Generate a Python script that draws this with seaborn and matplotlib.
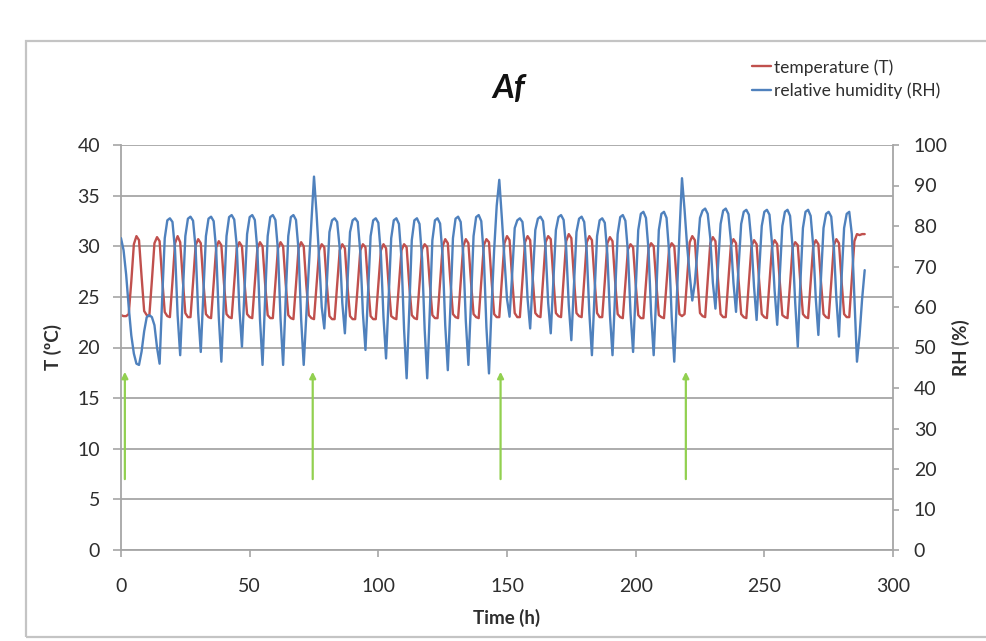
import matplotlib
matplotlib.use("Agg")
import matplotlib.pyplot as plt
import seaborn as sns
import pandas as pd
from matplotlib.patches import Rectangle
from matplotlib.lines import Line2D

# Hourly logger readings, one row per 8-hour climate cycle
temperature = [
    23.2, 23.1, 23.1, 23.3, 26.5, 30.2, 31.0, 30.6,
    27.0, 23.6, 23.2, 23.1, 26.6, 30.3, 30.9, 30.5,
    26.8, 23.5, 23.1, 23.0, 26.5, 30.3, 31.0, 30.4,
    26.7, 23.4, 23.0, 23.0, 26.4, 30.1, 30.7, 30.3,
    26.5, 23.3, 23.0, 22.9, 26.3, 29.9, 30.5, 30.1,
    26.4, 23.3, 23.0, 22.9, 26.3, 29.8, 30.4, 30.0,
    26.4, 23.3, 23.0, 22.9, 26.4, 29.8, 30.4, 30.0,
    26.3, 23.2, 22.9, 22.9, 26.3, 29.8, 30.4, 30.0,
    26.3, 23.2, 22.9, 22.8, 26.2, 29.8, 30.4, 30.0,
    26.2, 23.2, 22.9, 22.8, 26.2, 29.6, 30.2, 29.9,
    26.2, 23.1, 22.8, 22.8, 26.2, 29.6, 30.2, 29.8,
    26.1, 23.1, 22.8, 22.8, 26.1, 29.6, 30.2, 29.9,
    26.2, 23.1, 22.8, 22.8, 26.2, 29.6, 30.2, 29.8,
    26.2, 23.1, 22.9, 22.8, 26.2, 29.6, 30.2, 29.9,
    26.2, 23.2, 22.9, 22.8, 26.3, 29.7, 30.2, 29.9,
    26.3, 23.2, 22.9, 22.9, 26.4, 30.0, 30.7, 30.3,
    26.5, 23.3, 23.0, 22.9, 26.4, 30.0, 30.7, 30.3,
    26.5, 23.3, 23.0, 22.9, 26.5, 30.1, 30.7, 30.4,
    26.6, 23.3, 23.0, 23.0, 26.6, 30.3, 31.0, 30.6,
    26.8, 23.4, 23.0, 23.0, 26.6, 30.4, 31.0, 30.6,
    26.8, 23.4, 23.1, 23.0, 26.6, 30.4, 31.0, 30.7,
    26.9, 23.4, 23.1, 23.0, 26.7, 30.5, 31.2, 30.8,
    26.9, 23.4, 23.1, 23.0, 26.6, 30.4, 31.0, 30.6,
    26.8, 23.4, 23.0, 23.0, 26.5, 30.3, 30.9, 30.5,
    26.6, 23.3, 23.0, 22.9, 26.3, 29.7, 30.2, 29.9,
    26.3, 23.2, 22.9, 22.9, 26.3, 29.8, 30.3, 30.0,
    26.4, 23.2, 23.0, 22.9, 26.3, 29.8, 30.3, 30.0,
    26.4, 23.3, 23.1, 23.3, 26.9, 30.4, 31.0, 30.6,
    26.8, 23.4, 23.1, 23.0, 26.6, 30.3, 30.9, 30.5,
    26.7, 23.3, 23.0, 23.0, 26.5, 30.1, 30.7, 30.3,
    26.6, 23.3, 23.0, 22.9, 26.4, 30.0, 30.6, 30.2,
    26.5, 23.3, 23.0, 22.9, 26.4, 30.0, 30.6, 30.2,
    26.5, 23.2, 23.0, 22.9, 26.3, 29.9, 30.4, 30.1,
    26.4, 23.3, 23.0, 22.9, 26.4, 30.0, 30.6, 30.2,
    26.5, 23.3, 23.0, 22.9, 26.4, 30.1, 30.7, 30.3,
    26.6, 23.3, 23.0, 23.0, 26.7, 30.5, 31.2, 31.1,
    31.2, 31.2,
]

humidity = [
    77.0, 74.0, 68.0, 60.0, 53.0, 48.5, 46.0, 45.7,
    49.0, 54.0, 57.5, 58.0, 57.5, 55.5, 50.0, 46.0,
    62.0, 77.0, 81.4, 81.9, 81.0, 74.0, 58.0, 48.1,
    63.0, 77.5, 81.8, 82.3, 81.3, 74.5, 58.5, 48.9,
    63.0, 77.5, 81.8, 82.3, 81.2, 74.0, 57.5, 46.5,
    62.0, 77.5, 82.2, 82.7, 81.6, 75.0, 59.5, 50.2,
    64.0, 78.0, 82.2, 82.7, 81.5, 74.0, 57.0, 45.7,
    62.0, 77.5, 82.2, 82.7, 81.5, 74.0, 57.0, 45.7,
    62.0, 77.5, 82.2, 82.7, 81.5, 74.0, 57.0, 45.7,
    58.0, 70.0, 81.0, 92.2, 83.0, 72.0, 60.0, 54.7,
    66.0, 78.5, 81.4, 81.9, 81.0, 74.5, 61.0, 53.5,
    66.0, 78.5, 81.4, 81.9, 81.0, 73.5, 58.5, 49.4,
    63.5, 77.5, 81.4, 81.9, 80.8, 73.0, 57.5, 47.3,
    62.0, 77.0, 81.4, 81.9, 80.5, 72.0, 54.5, 42.4,
    59.0, 76.5, 81.4, 81.9, 80.5, 72.0, 54.5, 42.4,
    59.0, 76.5, 81.4, 81.9, 80.6, 72.5, 55.5, 44.4,
    60.0, 77.0, 81.8, 82.3, 81.0, 73.0, 56.5, 45.7,
    61.0, 77.5, 82.2, 82.7, 81.2, 72.5, 55.0, 43.6,
    60.0, 74.0, 85.0, 91.4, 82.0, 72.0, 62.0, 57.6,
    68.0, 79.5, 81.4, 81.9, 81.0, 74.5, 62.0, 54.7,
    67.0, 79.0, 81.8, 82.3, 81.2, 74.5, 61.0, 53.5,
    66.0, 79.0, 82.2, 82.7, 81.5, 74.5, 60.5, 51.8,
    65.0, 78.5, 81.8, 82.3, 81.0, 73.5, 58.5, 48.1,
    63.0, 77.5, 81.4, 81.9, 80.8, 73.0, 58.0, 48.1,
    63.0, 78.0, 82.2, 82.7, 81.3, 73.5, 58.5, 48.9,
    64.0, 79.0, 83.0, 83.5, 82.0, 74.0, 58.5, 48.1,
    63.0, 79.0, 83.0, 83.5, 82.0, 73.5, 57.5, 46.5,
    62.0, 78.0, 91.8, 84.0, 75.0, 68.0, 61.6, 66.0,
    74.0, 82.0, 83.8, 84.3, 83.0, 77.0, 66.0, 59.6,
    70.0, 80.5, 83.8, 84.3, 83.0, 76.5, 66.0, 58.8,
    70.0, 80.5, 83.5, 84.0, 82.8, 76.0, 65.0, 56.8,
    69.0, 80.0, 83.5, 84.0, 82.8, 75.5, 64.0, 55.6,
    68.0, 80.0, 83.5, 84.0, 82.5, 74.5, 61.0, 50.2,
    66.0, 79.5, 83.5, 84.0, 82.5, 75.0, 62.0, 53.1,
    67.0, 79.5, 83.0, 83.5, 82.3, 75.0, 62.0, 52.7,
    67.0, 79.5, 83.0, 83.5, 78.0, 62.0, 46.5, 53.0,
    62.0, 69.1,
]

hours = list(range(len(temperature)))

# Irrigation events marked on the time axis
event_hours = [1.5, 74.5, 147.5, 219.5]
event_tail, event_head = 7.0, 17.6

t_ticks = list(range(0, 41, 5))
rh_ticks = list(range(0, 101, 10))
x_ticks = list(range(0, 301, 50))

RED = "#C0504D"
BLUE = "#4F81BD"
GREEN = "#92D050"
GRID = "#A6A6A6"
TXT = "#2E2E2E"

sns.set_theme(style="white")
plt.rcParams["font.family"] = ["Lato", "DejaVu Sans"]

W, H = 986, 641
fig = plt.figure(figsize=(W / 100, H / 100), dpi=100)
fig.patch.set_facecolor("white")

# outer chart frame
fig.add_artist(Rectangle((26 / W, 4 / H), 2.0, (637 - 41) / H,
                         transform=fig.transFigure, fill=False,
                         edgecolor="#C4C4C4", lw=1.6))

ax = fig.add_axes([121 / W, 1 - 550 / H, (893 - 121) / W, (550 - 145) / H])
ax2 = ax.twinx()

df = pd.DataFrame({"hour": hours, "T": temperature, "RH": humidity})
sns.lineplot(data=df, x="hour", y="T", ax=ax, color=RED, lw=1.7)
sns.lineplot(data=df, x="hour", y="RH", ax=ax2, color=BLUE, lw=1.7)

ax.set_xlim(0, 300)
ax.set_ylim(0, 40)
ax2.set_ylim(0, 100)
ax.set_xticks(x_ticks)
ax.set_yticks(t_ticks)
ax2.set_yticks(rh_ticks)

ax.yaxis.grid(True, color=GRID, lw=1.3)
ax.xaxis.grid(False)
ax.set_axisbelow(True)

for a in (ax, ax2):
    for s in a.spines.values():
        s.set_visible(False)
ax.spines["left"].set_visible(True)
ax.spines["bottom"].set_visible(True)
ax2.spines["right"].set_visible(True)
for s in (ax.spines["left"], ax.spines["bottom"], ax2.spines["right"]):
    s.set_color(GRID)
    s.set_linewidth(1.3)

ax.tick_params(axis="y", left=True, direction="out", length=6, width=1.2,
               color=GRID, labelsize=14, labelcolor=TXT, pad=9)
ax.tick_params(axis="x", bottom=True, direction="out", length=5, width=1.2,
               color=GRID, labelsize=14, labelcolor=TXT, pad=15)
ax2.tick_params(axis="y", right=True, direction="out", length=4, width=1.2,
                color=GRID, labelsize=14, labelcolor=TXT, pad=11)
ax2.grid(False)

ax.set_xlabel("Time (h)", fontsize=13.5, fontweight="bold", color=TXT, labelpad=10)
ax.set_ylabel("T (ºC)", fontsize=13.5, fontweight="bold", color=TXT, labelpad=11)
ax2.set_ylabel("RH (%)", fontsize=13.5, fontweight="bold", color=TXT, labelpad=3)

for t in event_hours:
    ax.annotate("", xy=(t, event_head), xytext=(t, event_tail),
                arrowprops=dict(arrowstyle="-|>", color=GREEN, lw=1.6,
                                mutation_scale=9, shrinkA=0, shrinkB=0))

fig.text(509 / W, 1 - 89 / H, "Af", ha="center", va="center",
         fontsize=24, fontweight="bold", fontstyle="italic", color="#111111")

handles = [Line2D([0], [0], color=RED, lw=1.7), Line2D([0], [0], color=BLUE, lw=1.7)]
fig.legend(handles, ["temperature (T)", "relative humidity (RH)"],
           loc="upper left", bbox_to_anchor=(752 / W, 1 - 59 / H),
           frameon=False, fontsize=12.5, handlelength=1.1, handletextpad=0.15,
           labelspacing=0.38, borderaxespad=0, borderpad=0, labelcolor=TXT)

fig.savefig("out.png", dpi=100)
